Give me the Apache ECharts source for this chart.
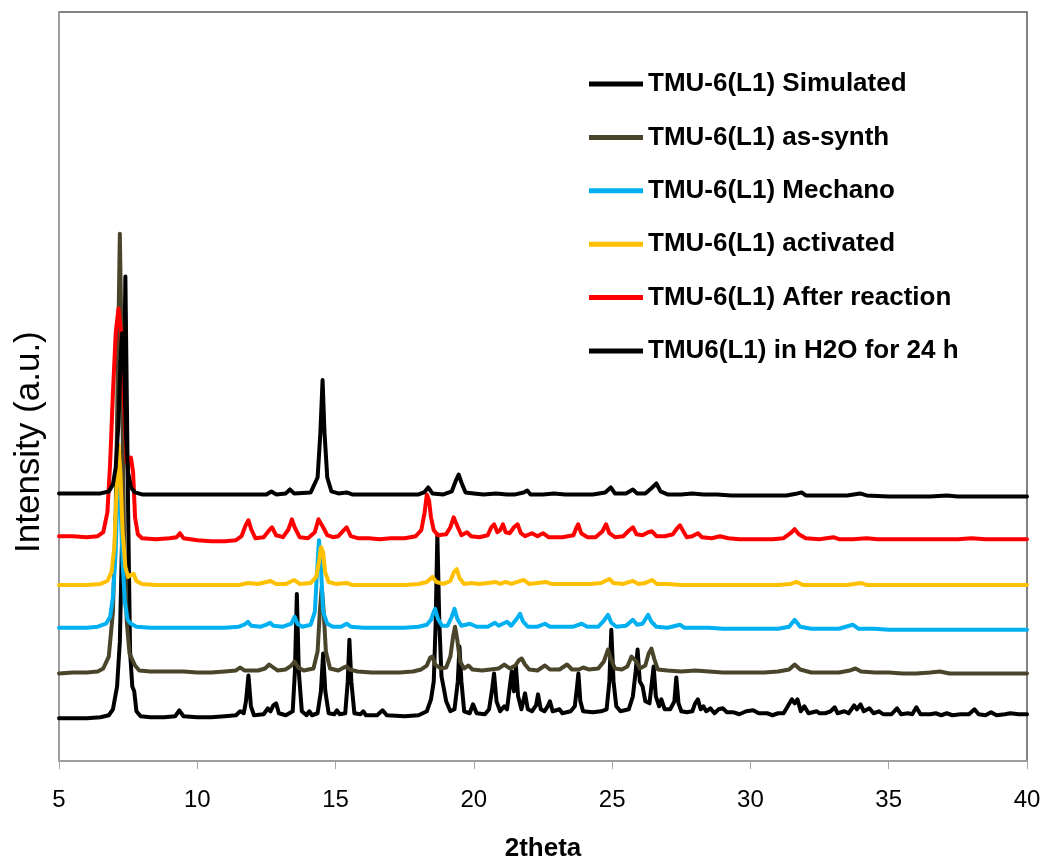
<!DOCTYPE html>
<html>
<head>
<meta charset="utf-8">
<title>TMU-6(L1) PXRD</title>
<script src="https://cdn.jsdelivr.net/npm/echarts@6/dist/echarts.min.js"></script>
<style>
  html, body { margin: 0; padding: 0; background: #fff; }
  #main { width: 1047px; height: 867px; }
</style>
</head>
<body>
<div id="main"></div>
<script>
// [2theta, intensity] - intensities are stacked (offset) values as plotted
const simulated = [
  [5.0, 43], [5.5, 43], [6.0, 43], [6.5, 44], [6.8, 46], [6.95, 52], [7.1, 75], [7.2, 120], [7.3, 250], [7.4, 487],
  [7.5, 250], [7.57, 110], [7.65, 75], [7.72, 70], [7.8, 50], [7.95, 45], [8.3, 44], [8.8, 44], [9.2, 45], [9.35, 51],
  [9.5, 45], [10.0, 44], [10.5, 44], [11.0, 45], [11.4, 46], [11.55, 50], [11.68, 48], [11.76, 60], [11.85, 86], [11.94, 55],
  [12.05, 46], [12.4, 47], [12.55, 53], [12.65, 50], [12.75, 56], [12.85, 58], [12.95, 48], [13.2, 46], [13.45, 50], [13.53, 90],
  [13.6, 168], [13.67, 90], [13.78, 50], [13.95, 46], [14.05, 50], [14.15, 46], [14.35, 48], [14.47, 70], [14.55, 108], [14.63, 70],
  [14.75, 48], [14.95, 47], [15.05, 51], [15.15, 47], [15.35, 48], [15.44, 80], [15.5, 122], [15.57, 80], [15.68, 48], [15.9, 47],
  [16.0, 50], [16.1, 46], [16.5, 46], [16.7, 51], [16.85, 46], [17.5, 45], [18.0, 46], [18.3, 50], [18.45, 62], [18.55, 80],
  [18.62, 140], [18.68, 228], [18.75, 140], [18.83, 85], [18.92, 72], [19.0, 60], [19.15, 50], [19.3, 52], [19.42, 80], [19.48, 115],
  [19.55, 80], [19.65, 50], [19.85, 48], [19.97, 57], [20.1, 48], [20.4, 47], [20.55, 52], [20.65, 70], [20.73, 88], [20.82, 60],
  [20.95, 50], [21.1, 55], [21.2, 52], [21.3, 75], [21.37, 90], [21.45, 70], [21.52, 95], [21.6, 65], [21.72, 52], [21.85, 68],
  [21.95, 52], [22.1, 50], [22.25, 56], [22.32, 67], [22.42, 52], [22.55, 50], [22.67, 55], [22.75, 60], [22.85, 50], [23.1, 52],
  [23.2, 48], [23.5, 50], [23.65, 55], [23.72, 72], [23.78, 88], [23.85, 60], [23.95, 50], [24.3, 49], [24.6, 50], [24.8, 52],
  [24.9, 80], [24.97, 132], [25.05, 80], [25.15, 55], [25.3, 50], [25.6, 52], [25.75, 65], [25.85, 90], [25.92, 112], [26.0, 80],
  [26.1, 75], [26.2, 60], [26.35, 58], [26.44, 80], [26.5, 95], [26.58, 65], [26.7, 55], [26.78, 62], [26.9, 52], [27.1, 52],
  [27.25, 60], [27.32, 84], [27.4, 58], [27.5, 50], [27.7, 49], [27.9, 50], [28.0, 58], [28.1, 62], [28.2, 52], [28.3, 55],
  [28.4, 50], [28.55, 53], [28.7, 48], [28.85, 52], [29.0, 53], [29.15, 49], [29.4, 49], [29.6, 47], [29.85, 50], [30.1, 51],
  [30.3, 48], [30.6, 48], [30.8, 46], [31.0, 48], [31.2, 48], [31.35, 55], [31.5, 62], [31.6, 58], [31.7, 62], [31.82, 50],
  [31.95, 55], [32.1, 48], [32.4, 50], [32.5, 48], [32.7, 48], [32.9, 50], [33.05, 54], [33.15, 48], [33.4, 50], [33.55, 48],
  [33.75, 56], [33.85, 52], [33.98, 57], [34.1, 50], [34.3, 53], [34.45, 48], [34.65, 50], [34.8, 47], [35.1, 47], [35.3, 53],
  [35.45, 47], [35.7, 48], [35.85, 47], [36.0, 54], [36.15, 47], [36.5, 47], [36.7, 48], [36.9, 46], [37.1, 48], [37.3, 46],
  [37.6, 47], [37.9, 47], [38.1, 52], [38.25, 47], [38.5, 46], [38.7, 49], [38.9, 46], [39.2, 47], [39.4, 48], [39.7, 47], [40.0, 47]
]

const asSynth = [
  [5.0, 88], [5.5, 89], [6.0, 89], [6.4, 90], [6.6, 93], [6.8, 105], [6.95, 150], [7.05, 250], [7.13, 400], [7.2, 530],
  [7.27, 400], [7.35, 230], [7.45, 140], [7.55, 108], [7.65, 102], [7.75, 96], [7.9, 91], [8.3, 90], [9.0, 90], [9.5, 90],
  [10.0, 89], [10.5, 89], [11.0, 90], [11.4, 91], [11.55, 94], [11.7, 91], [12.2, 91], [12.45, 93], [12.6, 97], [12.75, 94],
  [12.9, 91], [13.2, 92], [13.4, 96], [13.52, 100], [13.65, 94], [13.85, 91], [14.2, 93], [14.35, 110], [14.43, 150], [14.5, 175],
  [14.57, 150], [14.65, 110], [14.8, 93], [15.1, 91], [15.3, 94], [15.4, 95], [15.5, 92], [15.8, 90], [16.3, 89], [16.8, 89],
  [17.3, 89], [17.8, 90], [18.1, 92], [18.3, 96], [18.42, 104], [18.5, 105], [18.6, 97], [18.8, 93], [19.0, 94], [19.15, 105],
  [19.25, 125], [19.32, 135], [19.4, 122], [19.5, 100], [19.65, 93], [19.8, 96], [19.95, 92], [20.3, 91], [20.6, 92], [20.9, 93],
  [21.1, 97], [21.3, 93], [21.5, 96], [21.62, 101], [21.73, 103], [21.85, 97], [22.0, 92], [22.3, 91], [22.57, 96], [22.75, 92],
  [23.1, 92], [23.37, 97], [23.55, 92], [23.8, 92], [23.95, 94], [24.15, 92], [24.5, 93], [24.7, 100], [24.85, 112], [24.95, 103],
  [25.1, 93], [25.35, 92], [25.55, 95], [25.7, 105], [25.77, 107], [25.88, 100], [26.0, 93], [26.2, 96], [26.32, 108], [26.42, 113],
  [26.52, 103], [26.65, 92], [27.0, 91], [27.5, 90], [28.0, 91], [28.5, 90], [29.0, 89], [29.5, 89], [30.0, 89], [30.5, 89],
  [31.0, 90], [31.4, 92], [31.6, 97], [31.8, 92], [32.2, 89], [32.7, 89], [33.2, 89], [33.6, 91], [33.8, 93], [34.0, 90],
  [34.5, 89], [35.0, 89], [35.5, 88], [36.0, 88], [36.5, 89], [36.85, 90], [37.2, 88], [38.0, 88], [38.5, 88], [39.0, 88],
  [39.5, 88], [40.0, 88]
]

const mechano = [
  [5.0, 134], [5.5, 134], [6.0, 134], [6.4, 135], [6.7, 138], [6.85, 145], [6.95, 165], [7.05, 210], [7.1, 260], [7.15, 300],
  [7.22, 260], [7.3, 200], [7.38, 160], [7.48, 142], [7.6, 138], [7.8, 135], [8.3, 134], [9.0, 134], [9.5, 134], [10.0, 134],
  [10.5, 134], [11.0, 134], [11.5, 135], [11.7, 137], [11.83, 140], [11.95, 136], [12.3, 135], [12.5, 137], [12.63, 139], [12.75, 136],
  [13.1, 135], [13.4, 138], [13.52, 145], [13.62, 138], [13.8, 135], [14.1, 137], [14.25, 150], [14.33, 190], [14.4, 222], [14.48, 190],
  [14.55, 150], [14.7, 138], [14.9, 135], [15.2, 135], [15.4, 138], [15.55, 135], [16.0, 134], [16.5, 134], [17.0, 134], [17.5, 134],
  [18.0, 135], [18.3, 137], [18.45, 142], [18.55, 150], [18.6, 153], [18.7, 143], [18.85, 136], [19.05, 136], [19.2, 145], [19.3, 153],
  [19.4, 143], [19.55, 136], [19.86, 138], [20.1, 135], [20.5, 135], [20.76, 139], [20.9, 136], [21.2, 140], [21.35, 136], [21.55, 143],
  [21.67, 148], [21.78, 140], [21.95, 135], [22.3, 135], [22.57, 138], [22.75, 135], [23.2, 135], [23.6, 135], [23.9, 138], [24.1, 135],
  [24.5, 135], [24.7, 141], [24.85, 147], [24.97, 139], [25.15, 135], [25.5, 136], [25.75, 142], [25.9, 137], [26.1, 138], [26.3, 147],
  [26.42, 140], [26.6, 135], [27.0, 134], [27.45, 137], [27.6, 134], [28.0, 134], [28.5, 134], [29.0, 133], [29.5, 133], [30.0, 133],
  [30.5, 133], [31.0, 133], [31.4, 135], [31.6, 142], [31.8, 135], [32.2, 133], [32.7, 133], [33.2, 133], [33.7, 137], [33.9, 133],
  [34.5, 133], [35.0, 132], [35.5, 132], [36.0, 132], [36.5, 132], [37.0, 132], [37.5, 132], [38.0, 132], [38.5, 132], [39.0, 132],
  [39.5, 132], [40.0, 132]
]

const activated = [
  [5.0, 177], [5.5, 177], [6.0, 177], [6.5, 178], [6.75, 181], [6.9, 190], [7.0, 215], [7.08, 270], [7.15, 318], [7.22, 290],
  [7.3, 230], [7.4, 195], [7.5, 185], [7.6, 187], [7.7, 188], [7.8, 181], [8.0, 178], [8.5, 177], [9.0, 177], [9.5, 177],
  [10.0, 177], [10.5, 177], [11.0, 177], [11.5, 177], [11.85, 179], [12.2, 178], [12.65, 181], [12.85, 178], [13.2, 178], [13.5, 182],
  [13.7, 178], [14.1, 179], [14.3, 185], [14.4, 200], [14.47, 215], [14.55, 210], [14.62, 190], [14.75, 180], [15.0, 178], [15.4, 179],
  [15.6, 177], [16.0, 177], [16.5, 177], [17.0, 177], [17.5, 177], [18.0, 178], [18.3, 180], [18.5, 185], [18.65, 180], [18.9, 178],
  [19.15, 181], [19.28, 190], [19.38, 193], [19.48, 184], [19.65, 178], [19.9, 179], [20.2, 178], [20.8, 180], [20.95, 178], [21.15, 180],
  [21.35, 178], [21.8, 182], [22.0, 178], [22.6, 180], [22.8, 178], [23.3, 178], [23.8, 178], [24.2, 178], [24.6, 179], [24.9, 183],
  [25.05, 179], [25.4, 178], [25.75, 181], [25.95, 178], [26.2, 179], [26.45, 182], [26.62, 178], [27.0, 178], [27.5, 177], [28.0, 177],
  [28.5, 177], [29.0, 177], [29.5, 177], [30.0, 177], [30.5, 177], [31.0, 177], [31.45, 178], [31.68, 180], [31.9, 177], [32.5, 177],
  [33.0, 177], [33.5, 177], [34.0, 179], [34.2, 177], [35.0, 177], [35.5, 177], [36.0, 177], [37.0, 177], [37.5, 177], [38.0, 177],
  [38.5, 177], [39.0, 177], [39.5, 177], [40.0, 177]
]

const afterReaction = [
  [5.0, 226], [5.5, 226], [6.0, 225], [6.4, 226], [6.6, 230], [6.75, 250], [6.85, 300], [6.95, 370], [7.05, 430], [7.15, 455],
  [7.25, 430], [7.35, 360], [7.45, 300], [7.52, 300], [7.6, 305], [7.68, 290], [7.75, 245], [7.85, 228], [8.0, 224], [8.5, 223],
  [9.0, 224], [9.25, 225], [9.37, 229], [9.5, 224], [10.0, 222], [10.5, 221], [11.0, 221], [11.4, 222], [11.6, 226], [11.75, 237],
  [11.85, 242], [11.95, 233], [12.1, 224], [12.4, 225], [12.6, 232], [12.7, 235], [12.85, 227], [13.1, 225], [13.3, 233], [13.42, 243],
  [13.52, 235], [13.7, 225], [14.0, 224], [14.25, 230], [14.38, 243], [14.45, 245], [14.55, 235], [14.7, 227], [14.9, 225], [15.1, 226],
  [15.3, 232], [15.4, 235], [15.55, 226], [15.8, 224], [16.2, 224], [16.6, 223], [17.0, 224], [17.5, 224], [17.9, 226], [18.1, 232],
  [18.22, 250], [18.3, 268], [18.38, 262], [18.45, 245], [18.55, 232], [18.7, 227], [19.0, 228], [19.15, 235], [19.27, 245], [19.33, 247],
  [19.42, 235], [19.55, 227], [19.75, 230], [19.9, 226], [20.2, 225], [20.5, 227], [20.63, 235], [20.73, 238], [20.85, 230], [20.95, 232],
  [21.05, 238], [21.15, 230], [21.3, 229], [21.45, 235], [21.58, 238], [21.7, 229], [21.85, 226], [22.1, 229], [22.3, 226], [22.5, 229],
  [22.7, 225], [23.2, 225], [23.6, 227], [23.7, 234], [23.77, 238], [23.88, 229], [24.1, 225], [24.4, 225], [24.65, 231], [24.78, 238],
  [24.9, 229], [25.1, 225], [25.4, 226], [25.62, 232], [25.75, 235], [25.88, 228], [26.1, 227], [26.3, 230], [26.44, 231], [26.6, 226],
  [26.9, 226], [27.2, 228], [27.35, 234], [27.45, 237], [27.55, 232], [27.7, 225], [27.9, 226], [28.1, 229], [28.25, 225], [28.6, 224],
  [28.9, 226], [29.2, 224], [29.6, 223], [30.0, 223], [30.4, 223], [30.8, 223], [31.2, 224], [31.45, 229], [31.6, 233], [31.75, 228],
  [32.0, 224], [32.5, 223], [33.0, 225], [33.2, 223], [33.7, 223], [34.2, 224], [34.6, 223], [35.0, 223], [35.5, 223], [36.0, 223],
  [36.5, 223], [37.0, 223], [37.5, 223], [38.0, 224], [38.5, 223], [39.0, 223], [39.5, 223], [40.0, 223]
]

const inWater = [
  [5.0, 269], [5.5, 269], [6.0, 269], [6.5, 269], [6.8, 271], [6.95, 278], [7.05, 295], [7.15, 340], [7.22, 400], [7.28, 430],
  [7.35, 400], [7.42, 330], [7.5, 290], [7.6, 275], [7.75, 270], [8.0, 268], [8.5, 268], [9.0, 268], [9.5, 268], [10.0, 268],
  [10.5, 268], [11.0, 268], [11.5, 268], [11.9, 268], [12.2, 268], [12.5, 268], [12.68, 271], [12.85, 268], [13.2, 269], [13.35, 273],
  [13.5, 269], [14.1, 270], [14.35, 285], [14.45, 330], [14.53, 383], [14.6, 330], [14.7, 285], [14.85, 271], [15.1, 269], [15.4, 270],
  [15.6, 268], [16.0, 268], [16.5, 268], [17.0, 268], [17.5, 268], [18.0, 268], [18.2, 270], [18.35, 275], [18.5, 269], [18.9, 268],
  [19.2, 271], [19.35, 282], [19.45, 288], [19.55, 280], [19.7, 270], [20.0, 269], [20.35, 268], [20.8, 269], [21.2, 268], [21.5, 268],
  [21.8, 270], [21.93, 272], [22.05, 268], [22.5, 268], [22.9, 269], [23.3, 268], [23.8, 268], [24.3, 268], [24.75, 270], [24.95, 275],
  [25.1, 269], [25.5, 269], [25.75, 273], [25.9, 269], [26.2, 269], [26.45, 275], [26.6, 279], [26.75, 271], [27.0, 268], [27.5, 268],
  [27.9, 269], [28.3, 268], [28.8, 268], [29.3, 267], [29.8, 267], [30.3, 267], [30.8, 267], [31.3, 267], [31.7, 269], [31.85, 270],
  [32.0, 267], [32.5, 267], [33.0, 267], [33.5, 267], [33.96, 269], [34.2, 267], [35.0, 266], [35.5, 266], [36.0, 266], [36.5, 266],
  [37.1, 267], [37.5, 266], [38.0, 266], [38.5, 266], [39.0, 266], [39.5, 266], [40.0, 266]
]

const seriesNames = [
  'TMU-6(L1) Simulated',
  'TMU-6(L1) as-synth',
  'TMU-6(L1) Mechano',
  'TMU-6(L1) activated',
  'TMU-6(L1) After reaction',
  'TMU6(L1) in H2O for 24 h'
]
const seriesData = [simulated, asSynth, mechano, activated, afterReaction, inWater]
const colors = ['#000000', '#4a452a', '#00b0f0', '#ffc000', '#ff0000', '#000000']

const font = 'Liberation Sans, Arial, sans-serif'

const myChart = echarts.init(document.getElementById('main'))

const option = {
  animation: false,
  backgroundColor: '#fff',
  color: colors,
  grid: {
    left: 59,
    right: 20,
    top: 12,
    bottom: 102,
    show: true,
    borderColor: '#595959',
    borderWidth: 1.5
  },
  legend: {
    orient: 'vertical',
    left: 584,
    top: 66,
    itemWidth: 54,
    itemHeight: 5,
    itemGap: 27.4,
    icon: 'rect',
    data: seriesNames,
    textStyle: {
      fontFamily: font,
      fontSize: 26,
      fontWeight: 'bold',
      color: '#000',
      lineHeight: 26
    }
  },
  // y axis title drawn as rotated text so it can sit lower than the plot centre
  graphic: [
    {
      type: 'text',
      x: 29,
      y: 553,
      rotation: Math.PI / 2,
      style: {
        text: 'Intensity (a.u.)',
        fontFamily: font,
        fontSize: 35,
        fill: '#000',
        align: 'left',
        verticalAlign: 'middle'
      }
    }
  ],
  xAxis: {
    type: 'value',
    min: 5,
    max: 40,
    interval: 5,
    name: '2theta',
    nameLocation: 'middle',
    nameGap: 75,
    nameTextStyle: {
      fontFamily: font,
      fontSize: 26,
      fontWeight: 'bold',
      color: '#000'
    },
    axisLine: { lineStyle: { color: '#a6a6a6', width: 1.5 } },
    axisTick: { show: true, length: 8, lineStyle: { color: '#a6a6a6' } },
    axisLabel: {
      margin: 27,
      fontFamily: font,
      fontSize: 24,
      color: '#000'
    },
    splitLine: { show: false }
  },
  yAxis: {
    type: 'value',
    min: 0,
    max: 753,
    axisLine: { show: true, lineStyle: { color: '#a6a6a6', width: 1.5 } },
    axisTick: { show: false },
    axisLabel: { show: false },
    splitLine: { show: false }
  },
  series: seriesNames.map((name, i) => ({
    name: name,
    type: 'line',
    data: seriesData[i],
    showSymbol: false,
    symbol: 'none',
    smooth: false,
    lineStyle: { width: 4, color: colors[i], join: 'round', cap: 'round' },
    itemStyle: { color: colors[i] }
  }))
}

myChart.setOption(option)
</script>
</body>
</html>
